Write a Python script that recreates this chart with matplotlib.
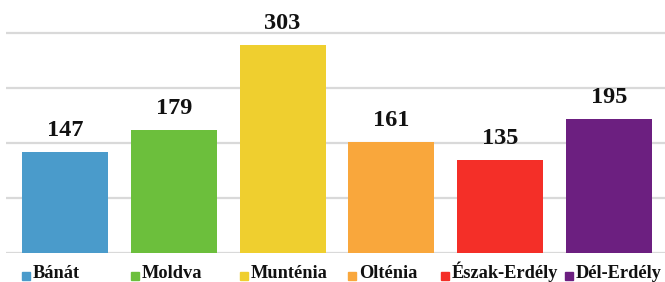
import matplotlib
matplotlib.use("Agg")
import matplotlib.pyplot as plt
from matplotlib.patches import Rectangle

categories = ["Bánát", "Moldva", "Munténia", "Olténia", "Észak-Erdély", "Dél-Erdély"]
values = [147, 179, 303, 161, 135, 195]
colors = ["#4a9bcb", "#6cbf3c", "#efcf2f", "#f9a73c", "#f42f28", "#6c1f80"]
grid_ticks = [0, 80, 160, 240, 320]

W, H = 665, 282
fig = plt.figure(figsize=(W / 100, H / 100), dpi=100)
ax = fig.add_axes([6 / W, 1 - 253 / H, (665 - 6) / W, 253 / H])

x = list(range(len(categories)))
ax.bar(x, values, width=0.79, color=colors, zorder=3)
ax.set_xlim(-0.542, 5.515)
ax.set_ylim(0, 368.3)
ax.set_yticks(grid_ticks)
ax.grid(axis="y", color="#d9d9d9", linewidth=1.6, zorder=0)
ax.tick_params(left=False, bottom=False, labelleft=False, labelbottom=False)
for s in ax.spines.values():
    s.set_visible(False)

for xi, v in zip(x, values):
    ax.annotate(str(v), (xi, v), xytext=(0, 8), textcoords="offset points",
                ha="center", va="bottom", fontsize=17.5, fontweight="bold",
                family="Liberation Serif", color="#111111", clip_on=False)

# manual legend
sq_x = [22, 131, 240, 348, 441, 565]
for px, lab, c in zip(sq_x, categories, colors):
    fig.patches.append(Rectangle((px / W, 1 - 280 / H), 8 / W, 8 / H,
                                 transform=fig.transFigure, color=c))
    fig.text((px + 11) / W, 1 - 278.5 / H, lab, ha="left", va="baseline",
             fontsize=13.2, fontweight="bold", family="Liberation Serif",
             color="#111111")

fig.savefig("out.png", dpi=100)
